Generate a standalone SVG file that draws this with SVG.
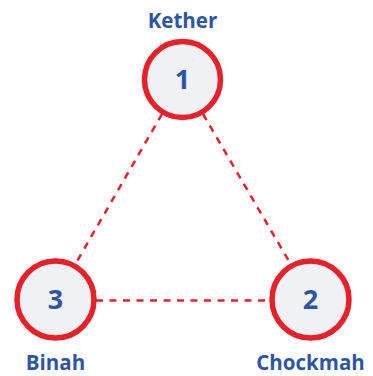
<svg xmlns="http://www.w3.org/2000/svg" width="373" height="376" viewBox="0 0 373 376">
<style>
.node circle{fill:#F0F1F4;stroke:#E8202A;stroke-width:5.5}
.num{font-family:"Open Sans","Liberation Sans",sans-serif;font-weight:bold;font-size:27px;fill:#2E55A4;text-anchor:middle}
.lbl{font-family:"Open Sans","Liberation Sans",sans-serif;font-weight:bold;font-size:20.5px;fill:#2E55A4;text-anchor:middle}
.edge{stroke:#E8202A;stroke-width:2.5;stroke-dasharray:7 6.5;fill:none}
</style>
<rect width="373" height="376" fill="#FFFFFF"/>
<g id="connectors">
<line class="edge" x1="162" y1="114" x2="76" y2="263"/>
<line class="edge" x1="203" y1="114" x2="290" y2="263"/>
<line class="edge" x1="96" y1="300.5" x2="270" y2="300.5"/>
</g>
<g id="node1" class="node">
<circle cx="182.5" cy="79.5" r="38"/>
<text class="num" x="182.5" y="89">1</text>
<text class="lbl" x="182.5" y="28">Kether</text>
</g>
<g id="node3" class="node">
<circle cx="55.5" cy="299.5" r="38.5"/>
<text class="num" x="55.5" y="309">3</text>
<text class="lbl" x="55.5" y="370">Binah</text>
</g>
<g id="node2" class="node">
<circle cx="310.5" cy="299.5" r="38.5"/>
<text class="num" x="310.5" y="309">2</text>
<text class="lbl" x="310.5" y="370">Chockmah</text>
</g>
</svg>
